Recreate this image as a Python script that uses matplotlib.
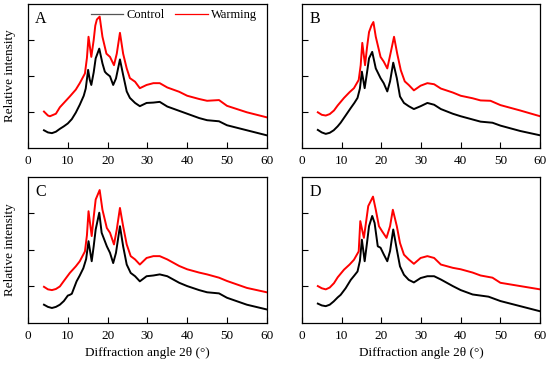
import matplotlib
matplotlib.use("Agg")
import matplotlib.pyplot as plt

plt.rcParams['font.family'] = ['Liberation Serif', 'DejaVu Serif']
plt.rcParams['mathtext.fontset'] = 'stix'

# ---------------- data (relative intensity) ----------------
panel_letters = ["A", "B", "C", "D"]
series_names = ["Control", "Warming"]

ctrl_x_A = [4, 5, 6, 7, 8, 9, 10, 11, 12, 13, 14, 14.5, 15.1, 15.5, 15.9, 16.5, 17.0, 17.9, 18.7, 19.3, 19.7, 20.6, 21.4, 22.1, 23.1, 23.9, 24.8, 25.6, 26.9, 28.1, 29.8, 31.5, 33.1, 35, 38, 40, 43, 45, 48, 50, 55, 60]
ctrl_y_A = [0.49, 0.43, 0.41, 0.45, 0.53, 0.60, 0.68, 0.80, 0.98, 1.20, 1.45, 1.65, 2.17, 1.90, 1.75, 2.10, 2.49, 2.76, 2.35, 2.12, 2.07, 1.99, 1.75, 1.93, 2.46, 2.03, 1.57, 1.39, 1.25, 1.16, 1.25, 1.26, 1.28, 1.15, 1.03, 0.95, 0.83, 0.77, 0.74, 0.63, 0.49, 0.35]
warm_x_A = [4, 5, 5.5, 7, 8, 9, 10.5, 12, 13, 14.3, 14.8, 15.2, 15.9, 16.5, 16.9, 17.3, 18.0, 18.7, 19.7, 20.6, 21.6, 22.3, 23.1, 23.9, 24.8, 25.6, 26.9, 28.1, 29.8, 31.5, 33.1, 35, 38, 40, 43, 45, 48, 50, 55, 60]
warm_y_A = [1.01, 0.90, 0.88, 0.95, 1.13, 1.25, 1.43, 1.62, 1.80, 2.07, 2.50, 3.09, 2.53, 3.00, 3.40, 3.57, 3.65, 3.09, 2.62, 2.53, 2.30, 2.62, 3.20, 2.62, 2.21, 1.94, 1.84, 1.66, 1.75, 1.80, 1.80, 1.68, 1.56, 1.45, 1.36, 1.31, 1.33, 1.17, 0.99, 0.85]

ctrl_x_B = [4, 5, 6, 7, 8, 9, 9.75, 11, 12.3, 13.2, 14.0, 14.6, 15.1, 15.8, 16.4, 16.9, 17.7, 18.6, 19.8, 20.6, 21.5, 22.2, 23.0, 23.9, 24.7, 25.7, 26.9, 28.2, 29.9, 31.6, 33.3, 35, 38, 40, 43, 45, 48, 50, 55, 60]
ctrl_y_B = [0.50, 0.43, 0.39, 0.42, 0.49, 0.60, 0.70, 0.90, 1.11, 1.25, 1.39, 1.65, 2.12, 1.66, 2.10, 2.49, 2.67, 2.21, 1.94, 1.80, 1.57, 1.85, 2.37, 1.94, 1.43, 1.25, 1.16, 1.08, 1.16, 1.25, 1.20, 1.08, 0.95, 0.88, 0.79, 0.73, 0.70, 0.62, 0.47, 0.35]
warm_x_B = [4, 5, 6, 7, 8.07, 9, 10.6, 12, 13.1, 14.3, 14.8, 15.2, 15.9, 16.4, 16.9, 17.5, 18.0, 18.6, 19.8, 20.6, 21.5, 22.3, 23.2, 24.0, 24.9, 25.9, 26.9, 28.2, 29.9, 31.6, 33.3, 35, 38, 40, 43, 45, 47.5, 50, 55, 60]
warm_y_B = [0.99, 0.92, 0.90, 0.94, 1.04, 1.18, 1.39, 1.55, 1.66, 1.89, 2.30, 2.92, 2.30, 2.80, 3.22, 3.40, 3.50, 3.09, 2.53, 2.40, 2.21, 2.62, 3.09, 2.62, 2.16, 1.85, 1.75, 1.60, 1.73, 1.80, 1.77, 1.65, 1.54, 1.45, 1.38, 1.32, 1.31, 1.19, 1.04, 0.88]

ctrl_x_C = [4, 5, 6, 7, 8, 9, 10, 10.5, 11, 12.2, 13.0, 13.9, 14.6, 15.2, 16.0, 16.5, 17.0, 17.9, 18.5, 19.8, 20.6, 21.4, 22.1, 23.1, 23.9, 24.8, 25.8, 26.9, 28.1, 29.8, 31.5, 33.1, 35, 38, 40, 43, 45, 48, 50, 55, 60]
ctrl_y_C = [0.50, 0.44, 0.41, 0.44, 0.50, 0.60, 0.75, 0.77, 0.80, 1.14, 1.30, 1.50, 1.75, 2.24, 1.69, 2.10, 2.56, 3.02, 2.47, 2.10, 1.92, 1.64, 1.92, 2.65, 2.10, 1.60, 1.37, 1.28, 1.14, 1.28, 1.30, 1.33, 1.28, 1.10, 1.01, 0.90, 0.84, 0.81, 0.69, 0.50, 0.37]
warm_x_C = [4, 5, 6, 7, 8, 9, 10.5, 12, 13.0, 14.3, 14.8, 15.2, 16.0, 16.5, 17.0, 18.0, 18.7, 19.8, 20.6, 21.6, 22.3, 23.1, 23.9, 24.8, 25.8, 26.9, 28.1, 29.8, 31.5, 33.1, 35, 38, 40, 43, 45, 48, 50, 55, 60]
warm_y_C = [0.99, 0.92, 0.90, 0.93, 1.00, 1.15, 1.37, 1.55, 1.69, 1.96, 2.40, 3.06, 2.38, 2.90, 3.38, 3.64, 3.10, 2.60, 2.47, 2.15, 2.56, 3.15, 2.65, 2.15, 1.83, 1.74, 1.60, 1.78, 1.83, 1.83, 1.74, 1.56, 1.47, 1.38, 1.33, 1.24, 1.15, 0.96, 0.84]

ctrl_x_D = [4, 5, 6, 7, 8, 9, 9.75, 11, 12.3, 13.2, 14.0, 14.6, 15.1, 15.8, 16.4, 16.9, 17.7, 18.3, 19.1, 19.8, 20.6, 21.5, 22.2, 23.0, 23.9, 24.7, 25.7, 26.9, 28.2, 29.9, 31.6, 33.3, 35, 38, 40, 43, 45, 47, 50, 55, 60]
ctrl_y_D = [0.53, 0.48, 0.46, 0.50, 0.59, 0.70, 0.77, 0.95, 1.18, 1.30, 1.41, 1.70, 2.28, 1.69, 2.20, 2.65, 2.93, 2.74, 2.10, 2.06, 1.88, 1.69, 1.97, 2.56, 2.01, 1.55, 1.32, 1.18, 1.11, 1.23, 1.28, 1.28, 1.19, 1.01, 0.90, 0.78, 0.75, 0.72, 0.60, 0.46, 0.32]
warm_x_D = [4, 5, 6, 7, 8.07, 9, 10.6, 12, 13.1, 14.3, 14.7, 15.6, 16.2, 16.7, 17.9, 18.6, 19.4, 20.2, 21.3, 22.2, 22.9, 23.9, 24.7, 25.7, 26.9, 28.2, 29.9, 31.6, 33.3, 35, 38, 40, 43, 45, 48, 50, 55, 60]
warm_y_D = [1.01, 0.95, 0.92, 0.97, 1.09, 1.25, 1.46, 1.60, 1.73, 1.96, 2.79, 2.33, 2.80, 3.20, 3.46, 3.10, 2.65, 2.51, 2.33, 2.65, 3.10, 2.65, 2.19, 1.87, 1.74, 1.62, 1.78, 1.83, 1.78, 1.60, 1.51, 1.47, 1.38, 1.30, 1.24, 1.10, 1.01, 0.92]

x_ticks = [0, 10, 20, 30, 40, 50, 60]
y_ticks = [1, 2, 3]
x_label = "Diffraction angle 2θ (°)"
y_label = "Relative intensity"

panels = {
    "A": (ctrl_x_A, ctrl_y_A, warm_x_A, warm_y_A),
    "B": (ctrl_x_B, ctrl_y_B, warm_x_B, warm_y_B),
    "C": (ctrl_x_C, ctrl_y_C, warm_x_C, warm_y_C),
    "D": (ctrl_x_D, ctrl_y_D, warm_x_D, warm_y_D),
}

# ---------------- figure ----------------
fig = plt.figure(figsize=(5.5, 3.67), dpi=100)
positions = {
    "A": [0.051, 0.597, 0.434, 0.392],
    "B": [0.549, 0.597, 0.433, 0.392],
    "C": [0.051, 0.120, 0.434, 0.398],
    "D": [0.549, 0.120, 0.433, 0.398],
}

FS = 9.5
axes = {}
for letter in panel_letters:
    ax = fig.add_axes(positions[letter])
    axes[letter] = ax
    cx, cy, wx, wy = panels[letter]
    ax.plot(cx, cy, color="black", lw=1.4, label=series_names[0])
    ax.plot(wx, wy, color="#ff0000", lw=1.4, label=series_names[1])
    ax.set_xlim(0, 60)
    ax.set_ylim(0, 4)
    ax.set_xticks(x_ticks)
    ax.set_yticks(y_ticks)
    ax.set_yticklabels([])
    ax.tick_params(direction="in", length=4, width=0.8, labelsize=FS, pad=5)
    for s in ax.spines.values():
        s.set_linewidth(0.9)
    ax.text(0.03, 0.95, letter, transform=ax.transAxes, fontsize=11.5,
            ha="left", va="top")
    if letter in ("A", "C"):
        ax.set_ylabel(y_label, fontsize=FS, labelpad=4)
    if letter in ("C", "D"):
        ax.set_xlabel(x_label, fontsize=FS, labelpad=4)

leg = axes["A"].legend(loc="center left", bbox_to_anchor=(0.262, 0.923), ncol=2,
                       frameon=False, fontsize=9, handlelength=2.6,
                       handletextpad=0.3, columnspacing=0.8,
                       borderpad=0, borderaxespad=0)
leg.get_lines()[0].set_color("#555555")
for ln in leg.get_lines():
    ln.set_linewidth(0.9)

fig.savefig("out.png", dpi=100)
